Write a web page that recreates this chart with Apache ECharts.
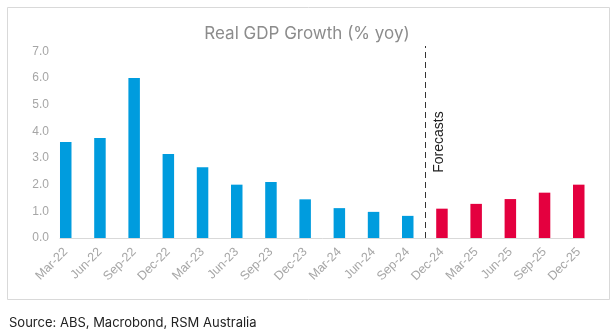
<!DOCTYPE html>
<html>
<head>
<meta charset="utf-8">
<script src="https://cdn.jsdelivr.net/npm/echarts@6/dist/echarts.min.js"></script>
<style>html,body{margin:0;padding:0;background:#fff;}#c{width:614px;height:332px;}</style>
</head>
<body>
<div id="c"></div>
<script>
const categories = ['Mar-22','Jun-22','Sep-22','Dec-22','Mar-23','Jun-23','Sep-23','Dec-23','Mar-24','Jun-24','Sep-24','Dec-24','Mar-25','Jun-25','Sep-25','Dec-25'];
const actual = [3.6, 3.75, 6.0, 3.15, 2.65, 2.0, 2.1, 1.45, 1.12, 0.98, 0.83, null, null, null, null, null];
const forecast = [null, null, null, null, null, null, null, null, null, null, null, 1.1, 1.28, 1.46, 1.7, 2.0];
const yTicks = [0, 1, 2, 3, 4, 5, 6, 7];
const forecastStart = 10.5;

const chart = echarts.init(document.getElementById('c'), null, {renderer: 'canvas'});
const toPairs = arr => arr.map((v, i) => v == null ? null : [i, v]).filter(p => p);
const halfBar = 0.168;
chart.setOption({
  animation: false,
  backgroundColor: '#fff',
  title: [
    {text: 'Real GDP Growth (% yoy)', left: 'center', top: 20,
     textStyle: {fontFamily: 'Inter', fontSize: 17, fontWeight: 'normal', color: '#8c8c8c'}},
    {text: 'Source: ABS, Macrobond, RSM Australia', left: 4, top: 312,
     textStyle: {fontFamily: 'Inter', fontSize: 13, fontWeight: 'normal', color: '#222'}}
  ],
  graphic: [{type: 'rect', shape: {x: 7.5, y: 7.5, width: 602, height: 292},
    style: {fill: 'none', stroke: '#d9d9d9', lineWidth: 1}, silent: true}],
  grid: {left: 60, right: 29.5, top: 46, bottom: 94, containLabel: false},
  xAxis: {
    type: 'value', min: -halfBar, max: categories.length - 1 + halfBar,
    splitLine: {show: false},
    axisLine: {show: true, lineStyle: {color: '#d9d9d9', width: 1}},
    axisTick: {show: false},
    axisLabel: {
      customValues: categories.map((_, i) => i),
      formatter: v => categories[Math.round(v)] || '',
      rotate: 45, margin: 12, color: '#a6a6a6', fontSize: 12.5, fontFamily: 'Liberation Sans'
    }
  },
  yAxis: {
    type: 'value', min: 0, max: 7.2, interval: 1,
    splitLine: {show: false}, axisLine: {show: false}, axisTick: {show: false},
    axisLabel: {showMaxLabel: false, margin: 11, color: '#a6a6a6', fontSize: 12, fontFamily: 'Liberation Sans',
      formatter: v => yTicks.includes(v) ? v.toFixed(1) : ''}
  },
  series: [
    {type: 'bar', data: toPairs(actual), barWidth: 11.5, itemStyle: {color: '#009CDE'},
     markLine: {silent: true, symbol: 'none', animation: false,
       lineStyle: {color: '#333', type: [6, 4], width: 1},
       label: {show: true, formatter: 'Forecasts', position: 'insideMiddleBottom', distance: 7,
         color: '#222', fontSize: 14, fontFamily: 'Liberation Sans'},
       data: [{xAxis: forecastStart}]}},
    {type: 'bar', data: toPairs(forecast), barWidth: 11.5, barGap: '-100%', itemStyle: {color: '#E4003F'}}
  ]
});
</script>
</body>
</html>
